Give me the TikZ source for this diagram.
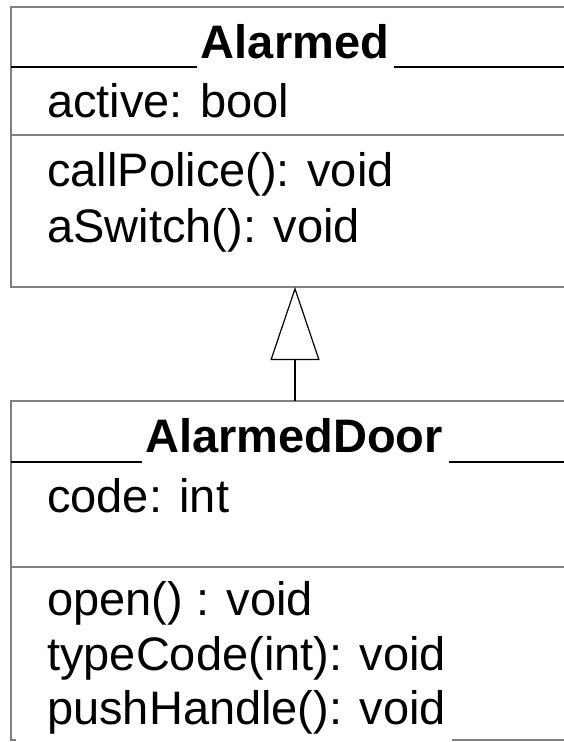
\documentclass[tikz,border=0pt]{standalone}
\usepackage{fontspec}
\setmainfont{Liberation Sans}
\usetikzlibrary{arrows.meta}

\tikzset{
  frame/.style={draw=black!50, line width=2pt},
  divider/.style={draw=black, line width=1.3pt},
  member/.style={anchor=base west, inner sep=0pt, font=\fontsize{47}{54}\selectfont},
  classname/.style={anchor=base, inner sep=0pt, font=\fontsize{47}{54}\selectfont\bfseries},
  inherits/.style={draw=black, line width=1.2pt, -{Triangle[open, length=73pt, width=49pt, line width=1.2pt]}}
}

\begin{document}
\begin{tikzpicture}[x=1pt, y=-1pt]
  \useasboundingbox (0,0) rectangle (564,742);
  \fill[white] (0,0) rectangle (564,742);
  \clip (0,0) rectangle (564,742);

  % ---- class Alarmed ----
  \draw[frame] (600,7) -- (11,7) -- (11,287) -- (600,287);
  \draw[divider] (11,67) -- (197,67);
  \draw[divider] (394,67) -- (600,67);
  \draw[frame] (11,135) -- (600,135);
  \node[classname] (alarmed) at (295,58) {Alarmed};
  \node[member] (active) at (47,117) {active: bool};
  \node[member] (callpolice) at (47,186) {callPolice(): void};
  \node[member] (aswitch) at (47,242) {aSwitch(): void};

  % ---- class AlarmedDoor ----
  \draw[frame] (600,401) -- (11,401) -- (11,740) -- (16,740);
  \draw[frame] (452,740) -- (600,740);
  \draw[divider] (11,462) -- (142,462);
  \draw[divider] (449,462) -- (600,462);
  \draw[frame] (11,567) -- (600,567);
  \node[classname] (alarmeddoor) at (294,452) {AlarmedDoor};
  \node[member] (code) at (47,512) {code: int};
  \node[member] (open) at (47,615) {open() : void};
  \node[member] (typecode) at (47,670) {typeCode(int): void};
  \node[member] (pushhandle) at (47,724) {pushHandle(): void};

  % ---- generalisation ----
  \coordinate (parentbase) at (295,287);
  \coordinate (childtop) at (295,401);
  \draw[inherits] (childtop) -- (parentbase);
\end{tikzpicture}
\end{document}
